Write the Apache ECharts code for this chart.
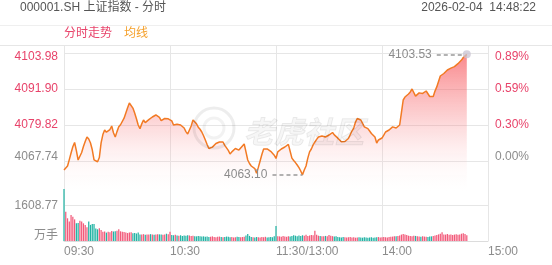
<!DOCTYPE html>
<html><head><meta charset="utf-8">
<script src="https://cdn.jsdelivr.net/npm/echarts@6/dist/echarts.min.js"></script>
<style>html,body{margin:0;padding:0;background:#fff}#c{width:552px;height:265px}</style>
</head><body><div id="c"></div>
<script>
const title = '000001.SH 上证指数 - 分时';
const dateText = '2026-02-04  14:48:22';
const legendNames = ['分时走势', '均线'];
const watermarkText = '老虎社区';
const prevClose = 4067.74;
const priceTicks = [4067.74, 4079.82, 4091.90, 4103.98];
const pctTicks = ['0.00%', '0.30%', '0.59%', '0.89%'];
const volTick = 1608.77;
const volUnit = '万手';
const timeLabels = ['09:30', '10:30', '11:30/13:00', '14:00', '15:00'];

const prices = [
4064.72,4065.30,4066.06,4068.20,4070.42,4072.50,4073.95,4071.20,4068.08,4068.40,
4070.60,4072.61,4074.30,4075.79,4075.10,4073.78,4071.50,4068.10,4067.60,4067.50,
4068.90,4073.80,4076.60,4078.14,4077.40,4077.50,4078.30,4079.48,4077.20,4075.79,
4077.60,4079.20,4079.90,4080.39,4082.10,4083.85,4085.60,4087.20,4087.71,4085.50,
4083.85,4081.90,4079.82,4078.60,4080.20,4081.50,4080.60,4080.80,4081.60,4081.20,
4082.51,4082.00,4083.18,4083.70,4082.40,4081.30,4081.80,4082.00,4081.60,4081.90,
4082.00,4081.20,4079.82,4080.30,4080.10,4080.60,4079.82,4079.40,4078.81,4077.60,
4076.80,4077.20,4079.50,4081.50,4080.90,4080.20,4079.10,4078.40,4077.47,4076.20,
4074.79,4073.30,4071.93,4072.20,4072.40,4073.00,4073.60,4073.90,4074.12,4073.80,
4074.12,4073.00,4072.40,4071.30,4070.09,4070.80,4071.40,4071.93,4071.60,4071.40,
4072.10,4072.40,4073.44,4070.80,4068.08,4066.90,4066.06,4066.70,4065.20,4063.61,
4065.60,4067.74,4069.90,4071.77,4072.40,4071.80,4071.25,4071.00,4070.90,4069.70,
4068.58,
4070.80,4071.40,4071.77,4072.00,4072.44,4072.90,4073.30,4071.00,4068.70,4067.90,
4067.20,4066.40,4065.50,4064.38,4063.10,4064.70,4066.06,4068.70,4070.80,4071.77,
4073.10,4074.12,4075.00,4075.79,4075.40,4076.10,4076.40,4075.79,4076.20,4076.46,
4076.90,4077.30,4076.50,4076.10,4075.40,4074.79,4074.20,4073.78,4074.30,4074.79,
4075.30,4075.79,4077.80,4078.81,4080.80,4082.00,4081.70,4081.50,4080.40,4079.20,
4079.00,4078.60,4077.80,4076.97,4076.30,4075.79,4073.78,4074.79,4075.10,4075.45,
4076.40,4077.47,4077.80,4078.14,4078.60,4079.20,4079.50,4078.81,4079.30,4079.82,
4084.00,4088.21,4089.20,4089.70,4090.22,4090.90,4091.90,4092.57,4089.50,4090.10,
4090.60,4090.20,4090.40,4090.80,4091.23,4090.30,4089.38,4089.20,4089.38,4091.20,
4092.60,4093.24,4096.26,4096.80,4097.10,4097.60,4098.28,4098.60,4098.90,4099.30,
4099.40,4099.95,4100.40,4100.95,4101.60,4102.47,4102.90,4103.53
];

const volumes = [
2360,1330,1030,880,1180,1100,980,800,820,920,
880,800,730,620,880,730,770,770,570,530,
575,500,420,430,380,420,400,450,430,440,
470,530,440,420,410,380,360,390,400,350,
360,340,380,300,290,310,280,300,290,310,
300,280,290,310,300,290,280,300,330,310,
420,270,260,280,250,240,260,230,250,240,
260,250,230,240,220,210,230,220,200,210,
190,200,180,190,210,180,170,190,200,180,
170,180,200,190,170,180,160,170,190,180,
170,180,190,250,320,230,180,170,160,180,
170,160,180,170,190,160,170,180,170,210,680,
220,210,190,230,200,190,210,200,230,260,
240,220,250,230,260,240,280,230,250,270,
260,470,280,240,230,220,210,230,220,270,
240,220,200,210,180,170,160,180,170,160,
170,180,160,170,150,160,170,160,150,170,
160,150,160,170,150,160,170,180,160,170,
180,170,160,180,190,200,210,220,230,250,
290,320,300,270,240,230,220,240,230,210,
200,190,210,200,190,180,200,210,230,250,
270,300,330,400,300,290,320,280,300,270,
290,310,280,300,330,350,320,260
];

const RED = '#e8436a', GRAY = '#8c8c8c', TEAL = '#22b3a4', BARRED = '#f25a7a';
const FONT = "'Liberation Sans', 'Noto Sans CJK SC', sans-serif";
const GRID_LINE = '#e6e6e6';

// time categories: 09:30-11:30, 13:01-15:00
const pad = n => (n < 10 ? '0' : '') + n;
const fmt = m => pad(Math.floor(m / 60)) + ':' + pad(m % 60);
const times = [];
for (let m = 570; m <= 690; m++) times.push(fmt(m));
for (let m = 781; m <= 900; m++) times.push(fmt(m));
const labelIdx = {0: timeLabels[0], 60: timeLabels[1], 120: timeLabels[2], 180: timeLabels[3], 240: timeLabels[4]};

const step = +(priceTicks[1] - priceTicks[0]).toFixed(2);
const topDelta = +(priceTicks[3] - prevClose).toFixed(2);
const deltas = prices.map(p => +(p - prevClose).toFixed(2));
const pxPerUnit = 108 / topDelta;
const yMax = topDelta + 8 / pxPerUnit;
const yMin = -step;

let maxIdx = 0, minIdx = 0;
prices.forEach((p, i) => { if (p > prices[maxIdx]) maxIdx = i; if (p < prices[minIdx]) minIdx = i; });

function tickIndex(v) {
  for (let k = 0; k < priceTicks.length; k++) {
    if (Math.abs(v - (priceTicks[k] - prevClose)) < 0.005) return k;
  }
  return -1;
}
const richBase = {fontSize: 12, fontFamily: FONT};
const axisRich = {
  rt: Object.assign({color: RED, padding: [8, 0, 0, 0]}, richBase),
  r: Object.assign({color: RED}, richBase),
  gb: Object.assign({color: GRAY, padding: [0, 0, 8, 0]}, richBase),
  gu: Object.assign({color: GRAY, padding: [0, 0, 10, 0]}, richBase),
  g: Object.assign({color: GRAY}, richBase)
};
const styleFor = k => (k === 3 ? 'rt' : k === 0 ? 'gb' : 'r');

const volData = volumes.map((v, i) => ({
  value: v,
  itemStyle: {color: prices[i] >= (i ? prices[i - 1] : prevClose) ? BARRED : TEAL}
}));

const chart = echarts.init(document.getElementById('c'), null, {renderer: 'canvas'});
chart.setOption({
  animation: false,
  textStyle: {fontFamily: FONT},
  grid: [
    {left: 64, right: 64, top: 45, height: 152},
    {left: 64, right: 64, top: 170, height: 71}
  ],
  xAxis: [
    {
      type: 'category', gridIndex: 0, data: times, boundaryGap: false,
      axisLine: {show: false}, axisTick: {show: false}, axisLabel: {show: false},
      splitLine: {show: true, interval: (i) => i % 60 === 0, lineStyle: {color: GRID_LINE, width: 1}}
    },
    {
      type: 'category', gridIndex: 1, data: times, boundaryGap: false,
      axisLine: {show: true, lineStyle: {color: '#dcdcdc'}}, axisTick: {show: false},
      axisLabel: {
        show: true, interval: (i) => i % 60 === 0, align: 'left', margin: 5,
        color: GRAY, fontSize: 12, fontFamily: FONT,
        formatter: (v, i) => labelIdx[i] !== undefined ? labelIdx[i] : v
      },
      splitLine: {show: true, interval: (i) => i % 60 === 0, lineStyle: {color: GRID_LINE, width: 1}}
    }
  ],
  yAxis: [
    {
      type: 'value', gridIndex: 0, min: yMin, max: yMax, interval: step, position: 'left',
      axisLine: {show: false}, axisTick: {show: false},
      axisLabel: {
        margin: 6, rich: axisRich,
        formatter: (v) => { const k = tickIndex(v); return k < 0 ? '' : '{' + styleFor(k) + '|' + priceTicks[k].toFixed(2) + '}'; }
      },
      splitLine: {show: true, showMinLine: false, showMaxLine: false, lineStyle: {color: GRID_LINE}}
    },
    {
      type: 'value', gridIndex: 0, min: yMin, max: yMax, interval: step, position: 'right',
      axisLine: {show: false}, axisTick: {show: false},
      axisLabel: {
        margin: 7, rich: axisRich,
        formatter: (v) => { const k = tickIndex(v); return k < 0 ? '' : '{' + styleFor(k) + '|' + pctTicks[k] + '}'; }
      },
      splitLine: {show: false}
    },
    {
      type: 'value', gridIndex: 1, min: 0, max: volTick * 2, interval: volTick, position: 'left',
      axisLine: {show: false}, axisTick: {show: false},
      axisLabel: {
        margin: 6, rich: axisRich,
        formatter: (v) => v === 0 ? '{gu|' + volUnit + '}' : (Math.abs(v - volTick) < 0.01 ? '{g|' + volTick.toFixed(2) + '}' : '')
      },
      splitLine: {show: true, showMinLine: false, showMaxLine: false, lineStyle: {color: GRID_LINE}}
    }
  ],
  series: [
    {
      type: 'bar', xAxisIndex: 1, yAxisIndex: 2, data: volData, barWidth: '70%', silent: true
    },
    {
      name: legendNames[0], type: 'line', xAxisIndex: 0, yAxisIndex: 0, data: deltas,
      showSymbol: false, symbol: 'none', silent: true,
      lineStyle: {color: '#f27a24', width: 1.5},
      areaStyle: {
        origin: 'start',
        color: new echarts.graphic.LinearGradient(0, 0, 0, 1, [
          {offset: 0, color: 'rgba(246,72,78,0.92)'},
          {offset: 0.45, color: 'rgba(247,105,110,0.42)'},
          {offset: 1, color: 'rgba(255,255,255,0)'}
        ])
      },
      markLine: {
        silent: true, animation: false, symbol: ['none', 'none'],
        lineStyle: {color: '#999', type: [4, 3], width: 1.5},
        label: {show: true, position: 'start', color: GRAY, fontSize: 12, fontFamily: FONT, distance: 5},
        data: [
          [{coord: [maxIdx - 17, deltas[maxIdx]], label: {formatter: prices[maxIdx].toFixed(2)}},
           {coord: [maxIdx - 2, deltas[maxIdx]]}],
          [{coord: [minIdx - 17, deltas[minIdx]], label: {formatter: prices[minIdx].toFixed(2)}},
           {coord: [minIdx, deltas[minIdx]]}]
        ]
      },
      markPoint: {
        silent: true, animation: false,
        data: [{coord: [maxIdx, deltas[maxIdx]], symbol: 'circle', symbolSize: 8,
                itemStyle: {color: 'rgba(200,195,210,0.75)'}, label: {show: false}}]
      }
    }
  ],
  graphic: [
    {type: 'line', silent: true, z: 1, shape: {x1: 0, y1: 25.5, x2: 552, y2: 25.5}, style: {stroke: '#efefef', lineWidth: 1}},
    {type: 'line', silent: true, z: 1, shape: {x1: 0, y1: 45.5, x2: 552, y2: 45.5}, style: {stroke: GRID_LINE, lineWidth: 1}},
    {type: 'text', silent: true, x: 20, y: 8, style: {text: title, fill: '#555', fontSize: 12, fontFamily: FONT, verticalAlign: 'middle'}},
    {type: 'text', silent: true, x: 536, y: 8, style: {text: dateText, fill: '#555', fontSize: 12, fontFamily: FONT, align: 'right', verticalAlign: 'middle'}},
    {type: 'text', silent: true, x: 64, y: 34, style: {text: legendNames[0], fill: RED, fontSize: 12, fontFamily: FONT, verticalAlign: 'middle'}},
    {type: 'text', silent: true, x: 124, y: 34, style: {text: legendNames[1], fill: '#f5a02a', fontSize: 12, fontFamily: FONT, verticalAlign: 'middle'}},
    {type: 'circle', silent: true, z: 100, shape: {cx: 214, cy: 128, r: 20}, style: {fill: 'none', stroke: 'rgba(0,0,0,0.07)', lineWidth: 3}},
    {type: 'circle', silent: true, z: 100, shape: {cx: 214, cy: 128, r: 10}, style: {fill: 'none', stroke: 'rgba(0,0,0,0.05)', lineWidth: 3}},
    {type: 'text', silent: true, z: 100, x: 244, y: 132, style: {text: watermarkText, fill: 'rgba(0,0,0,0.035)', stroke: 'rgba(0,0,0,0.08)', lineWidth: 1, fontSize: 30, fontWeight: 'bold', fontStyle: 'italic', fontFamily: "'Noto Sans CJK SC', sans-serif", verticalAlign: 'middle'}}
  ]
});
</script>
</body></html>
